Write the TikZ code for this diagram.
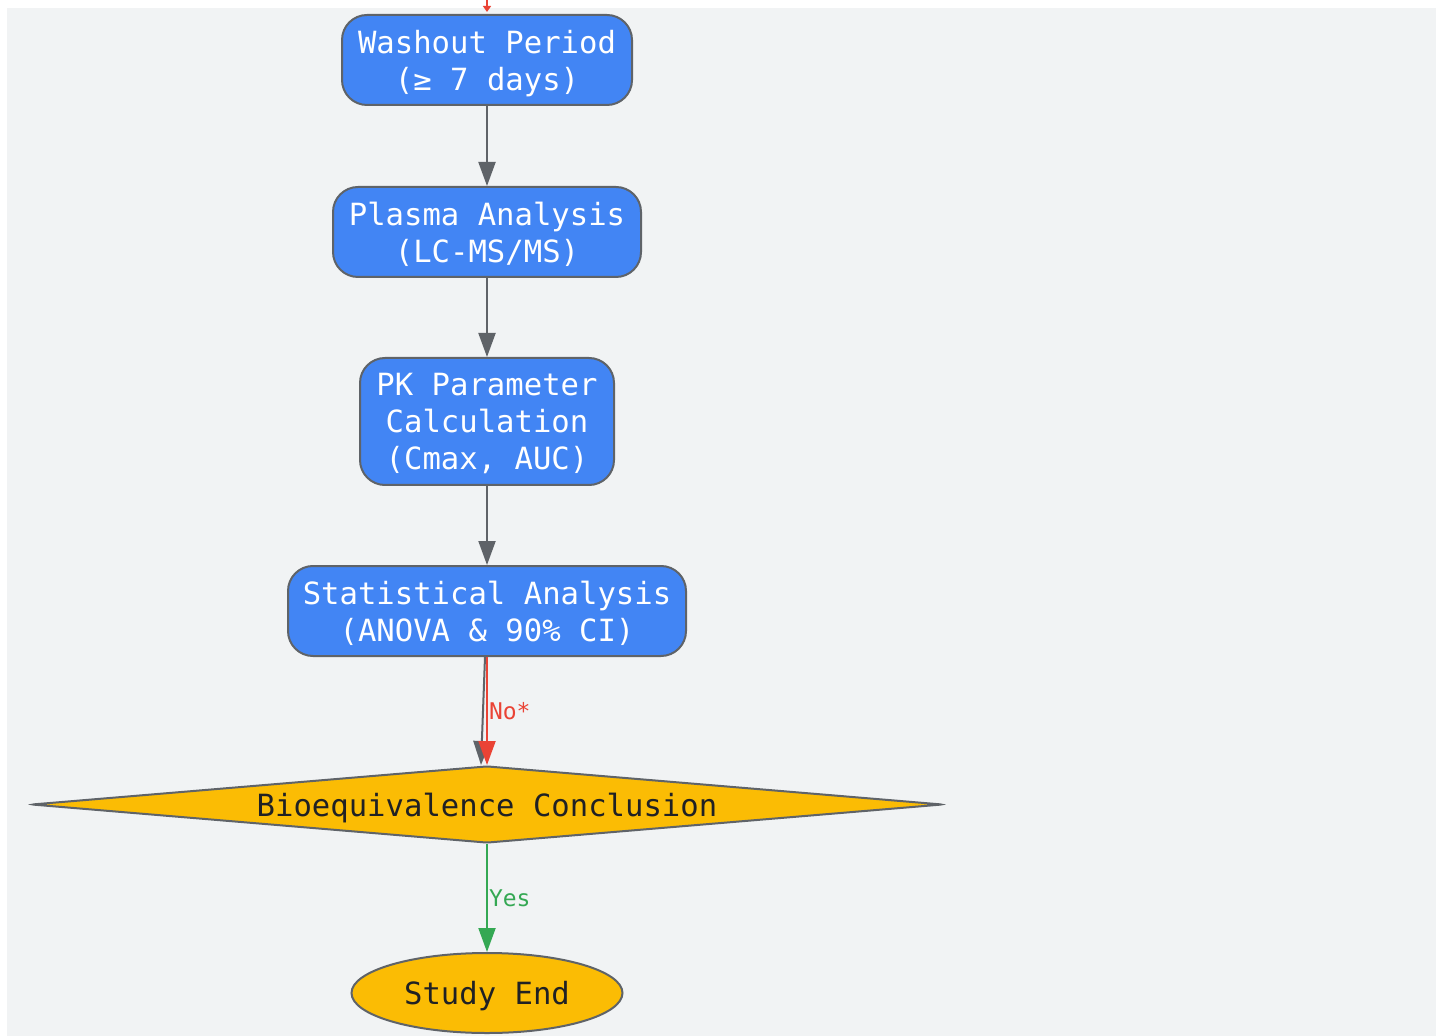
\documentclass[tikz,border=0pt]{standalone}
\usepackage{fontspec}
\setmonofont{DejaVu Sans Mono}
\usetikzlibrary{shapes.geometric,arrows.meta,calc}

\definecolor{bggray}{HTML}{F1F3F4}
\definecolor{stepblue}{HTML}{4285F4}
\definecolor{edgegray}{HTML}{5F6368}
\definecolor{decyellow}{HTML}{FBBC04}
\definecolor{darktext}{HTML}{202124}
\definecolor{nored}{HTML}{EA4335}
\definecolor{yesgreen}{HTML}{34A853}

\tikzset{
  stepbox/.style={draw=edgegray, line width=1pt, fill=stepblue, text=white,
    rounded corners=12.5pt, align=center, inner sep=0pt, text depth=0pt,
    font=\ttfamily\fontsize{15.3}{18.5}\selectfont},
  decbox/.style={shape=diamond, draw=edgegray, line width=1pt, fill=decyellow,
    text=darktext, aspect=11.86, inner sep=0pt, rounded corners=1pt, text depth=0pt,
    font=\ttfamily\fontsize{15.3}{18.5}\selectfont},
  endbox/.style={shape=ellipse, draw=edgegray, line width=1pt, fill=decyellow,
    text=darktext, inner sep=0pt, text depth=0pt,
    font=\ttfamily\fontsize{15.3}{18.5}\selectfont},
  flow/.style={draw=edgegray, line width=1pt, -{Triangle[length=12pt, width=8.5pt]}},
  lbl/.style={font=\ttfamily\fontsize{11.5}{13}\selectfont, inner sep=0.5pt}
}

\begin{document}
\begin{tikzpicture}[x=0.5pt, y=-0.5pt]
    \def \cx {487} % every node sits on this column
    \useasboundingbox (0,0) rectangle (1443,1036);
    \fill[bggray] (7,8) rectangle (1436,1036);

    \coordinate (top) at (\cx,0);
    \node[stepbox, minimum width=145pt, minimum height=45pt] (wash) at (\cx,60)
      {Washout Period\\(≥ 7 days)};
    \node[stepbox, minimum width=154pt, minimum height=45pt] (plasma) at (\cx,232)
      {Plasma Analysis\\(LC-MS/MS)};
    \node[stepbox, minimum width=127pt, minimum height=63.5pt] (pk) at (\cx,421.5)
      {PK Parameter\\Calculation\\(Cmax, AUC)};
    \node[stepbox, minimum width=199pt, minimum height=45pt] (stat) at (\cx,611)
      {Statistical Analysis\\(ANOVA \& 90\% CI)};
    \node[decbox, minimum width=455.5pt, minimum height=38.5pt] (dec) at (\cx,804.5)
      {Bioequivalence Conclusion};
    \node[endbox, minimum width=135.5pt, minimum height=40pt] (stop) at (\cx,993)
      {Study End};

    \draw[draw=nored, line width=1pt, -{Triangle[length=3pt, width=4pt]}]
      (top) -- ([yshift=1pt]wash.north);
    \draw[flow] (wash) -- (plasma);
    \draw[flow] (plasma) -- (pk);
    \draw[flow] (pk) -- (stat);
    \draw[flow] ([xshift=-1pt]stat.south) .. controls ([xshift=-2pt]$(stat.south)!0.5!(dec.north)$)
      .. ([xshift=-3pt]dec.north);
    \draw[flow, draw=nored, -{Triangle[length=12pt, width=8.5pt, fill=nored]}]
      (stat.south) -- node[lbl, right, text=nored] {No*} (dec.north);
    \draw[flow, draw=yesgreen, -{Triangle[length=12pt, width=8.5pt, fill=yesgreen]}]
      (dec.south) -- node[lbl, right, text=yesgreen] {Yes} (stop.north);
\end{tikzpicture}
\end{document}
